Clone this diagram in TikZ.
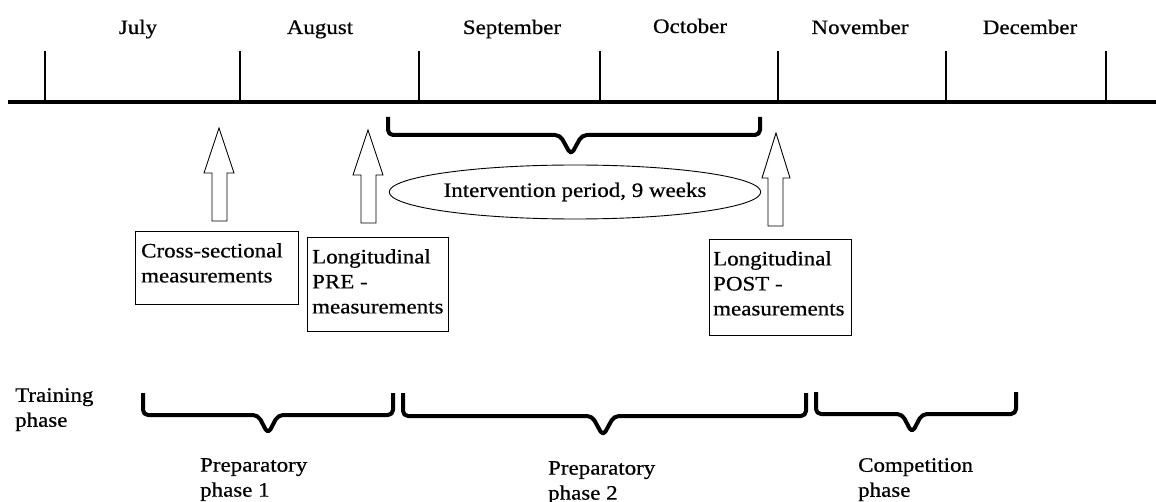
\documentclass[tikz,border=0pt]{standalone}
\usepackage{fontspec}
\setmainfont{Liberation Serif}[FakeStretch=1.12,FakeBold=0.6]
\usetikzlibrary{shapes.geometric}
\begin{document}
\begin{tikzpicture}[x=1pt,y=-1pt,
  every node/.style={font=\fontsize{20.5}{25}\selectfont, inner sep=0pt},
  axisline/.style={line width=4pt},
  tickline/.style={line width=1.2pt},
  bracepath/.style={line width=4pt, rounded corners=5pt, line join=round, line cap=butt},
  blockarrow/.style={draw, line width=0.9pt, fill=white, line join=miter},
  infobox/.style={draw, line width=1.4pt, anchor=north west},
  lbl/.style={align=left, anchor=north west},
  month/.style={anchor=base}]
\useasboundingbox (0,0) rectangle (1156,502);

% timeline
\coordinate (axL) at (8,102);
\coordinate (axR) at (1156,102);
\draw[axisline] (axL) -- (axR);
\foreach \x in {45,240,419,600,778,946,1106}
  \draw[tickline] (\x,51) -- (\x,102);

\node[month] (jul) at (138,34) {July};
\node[month] (aug) at (320,34) {August};
\node[month] (sep) at (512,34) {September};
\node[month] (oct) at (690,33) {October};
\node[month] (nov) at (860,34) {November};
\node[month] (dec) at (1030,34) {December};

% intervention brace
\draw[bracepath] (388,117) -- (388,135) -- (560,135) -- (571,155) -- (582,135) -- (760,135) -- (760,117);
\node[ellipse, draw, line width=0.9pt, minimum width=320, minimum height=54] (interv) at (575,192) {Intervention period, 9 weeks};

% block arrows
\draw[blockarrow] (219,128) -- (234,173) -- (227,173) -- (227,221) -- (212,221) -- (212,173) -- (204,173) -- cycle;
\draw[blockarrow] (368,130) -- (383,175) -- (376,175) -- (376,223) -- (361,223) -- (361,175) -- (353,175) -- cycle;
\draw[blockarrow] (776,133) -- (790,178) -- (783,178) -- (783,226) -- (768,226) -- (768,178) -- (762,178) -- cycle;

% boxes
\node[infobox, minimum width=163, minimum height=73] (box1) at (135,231) {};
\node[lbl] (t1) at (141,243) {Cross-sectional\\measurements};
\node[infobox, minimum width=141, minimum height=94] (box2) at (307,237) {};
\node[lbl] (t2) at (312,249) {Longitudinal\\PRE -\\measurements};
\node[infobox, minimum width=142, minimum height=96] (box3) at (709,239) {};
\node[lbl] (t3) at (713,251) {Longitudinal\\POST -\\measurements};

% training phase
\node[lbl] (train) at (15,388) {Training\\phase};
\draw[bracepath] (143,393) -- (143,415) -- (258,415) -- (268,434) -- (278,415) -- (393,415) -- (393,393);
\draw[bracepath] (403,393) -- (403,416) -- (592,416) -- (603,436) -- (614,416) -- (806,416) -- (806,393);
\draw[bracepath] (816,392) -- (816,414) -- (902,414) -- (912,433) -- (922,414) -- (1016,414) -- (1016,392);

\node[lbl] (prep1) at (200,458) {Preparatory\\phase 1};
\node[lbl] (prep2) at (548,461) {Preparatory\\phase 2};
\node[lbl] (comp) at (858,458) {Competition\\phase};
\end{tikzpicture}
\end{document}
